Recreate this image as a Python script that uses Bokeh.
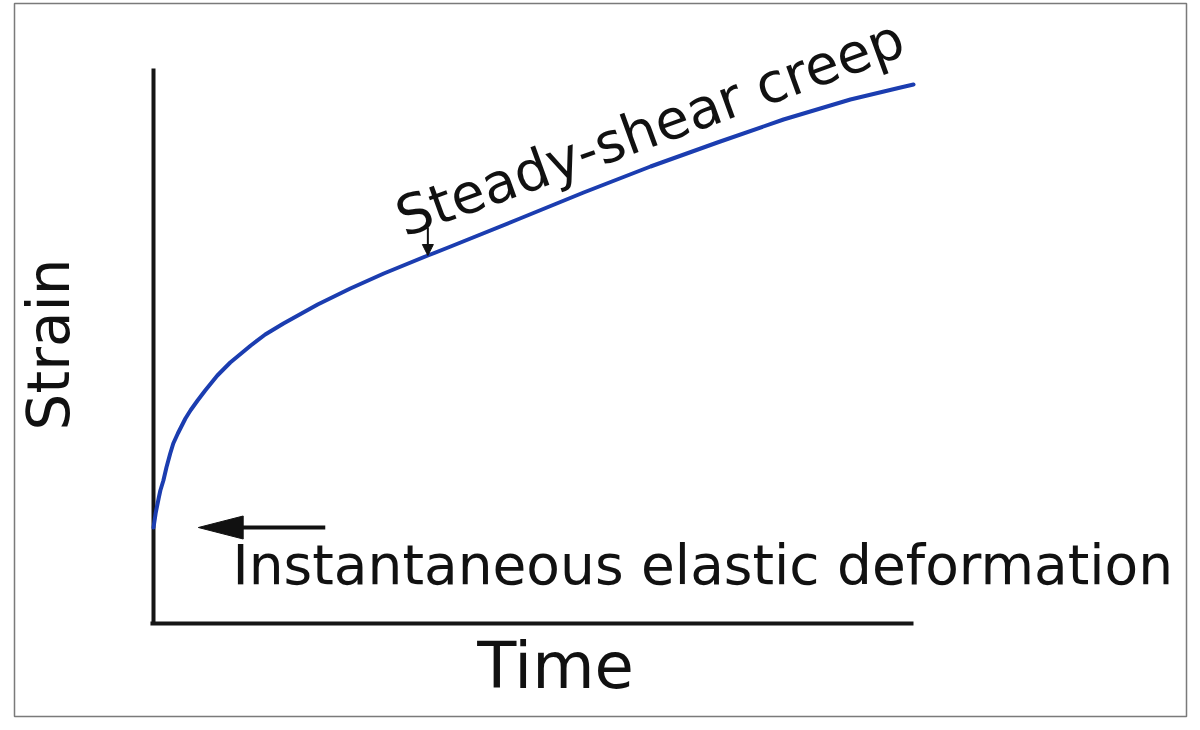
from bokeh.plotting import figure
from bokeh.models import Range1d, Arrow, NormalHead, Label
from bokeh.embed import file_html
from bokeh.resources import INLINE
import math

# ---- data (time and strain, arbitrary units) ----
time = [0, 0.03, 0.07, 0.09, 0.13, 0.17, 0.22, 0.26, 0.32, 0.42, 0.49, 0.58, 0.68,
        0.84, 1.01, 1.28, 1.47, 1.71, 2.16, 2.59, 3.03, 3.61, 3.91, 4.79, 5.66,
        6.54, 7.42, 8.29, 9.17, 9.83, 10.0]
strain = [1.92, 2.22, 2.52, 2.66, 2.86, 3.12, 3.40, 3.60, 3.80, 4.10, 4.27, 4.46, 4.66,
          4.96, 5.22, 5.56, 5.78, 6.00, 6.38, 6.70, 7.00, 7.36, 7.54, 8.08, 8.62,
          9.14, 9.62, 10.08, 10.48, 10.72, 10.78]

time_axis_end = 10.0
strain_axis_end = 11.1

x_label = "Time"
y_label = "Strain"
creep_label = "Steady-shear creep"
elastic_label = "Instantaneous elastic deformation"

# annotation anchors (data units)
elastic_arrow_tail = (2.26, 1.92)
elastic_arrow_tip = (0.59, 1.92)
creep_arrow_tail = (3.61, 7.92)
creep_arrow_tip = (3.61, 7.36)

FONT = "DejaVu Sans"
INK = "#111111"

p = figure(width=1190, height=720, output_backend="svg", toolbar_location=None,
           x_range=Range1d(-1.829, 13.592), y_range=Range1d(-1.86, 12.40),
           x_axis_type=None, y_axis_type=None,
           min_border_left=14, min_border_right=4, min_border_top=3, min_border_bottom=4)
p.grid.visible = False
p.outline_line_color = "#7a7a7a"
p.outline_line_width = 1.5
p.background_fill_color = "white"
p.border_fill_color = "white"

# axes drawn as plain lines
p.line([0, 0], [0, strain_axis_end], line_color="#151515", line_width=4)
p.line([-0.04, time_axis_end], [0, 0], line_color="#151515", line_width=4)

# creep curve
p.line(time, strain, line_color="#1b3db0", line_width=4, line_cap="round", line_join="round")

# big arrow for elastic deformation: shaft + elongated head
head_len = 0.59
head_half = 0.23
p.line([elastic_arrow_tail[0], elastic_arrow_tip[0] + head_len * 0.9],
       [elastic_arrow_tail[1], elastic_arrow_tip[1]], line_color=INK, line_width=4)
p.patch([elastic_arrow_tip[0], elastic_arrow_tip[0] + head_len, elastic_arrow_tip[0] + head_len],
        [elastic_arrow_tip[1], elastic_arrow_tip[1] + head_half, elastic_arrow_tip[1] - head_half],
        fill_color=INK, line_color=INK)

# small arrow from label to curve
p.add_layout(Arrow(x_start=creep_arrow_tail[0], y_start=creep_arrow_tail[1],
                   x_end=creep_arrow_tip[0], y_end=creep_arrow_tip[1],
                   line_color=INK, line_width=2,
                   end=NormalHead(size=11, fill_color=INK, line_color=INK)))

# texts
p.add_layout(Label(x=-1.37, y=5.58, text=y_label, angle=math.pi / 2,
                   text_align="center", text_baseline="middle",
                   text_font=FONT, text_font_size="58px", text_color=INK))
p.add_layout(Label(x=5.29, y=-0.84, text=x_label,
                   text_align="center", text_baseline="middle",
                   text_font=FONT, text_font_size="64px", text_color=INK))
p.add_layout(Label(x=1.04, y=1.17, text=elastic_label,
                   text_align="left", text_baseline="middle",
                   text_font=FONT, text_font_size="55px", text_color=INK))
p.add_layout(Label(x=3.22, y=8.08, text=creep_label, angle=math.radians(20),
                   text_align="left", text_baseline="middle",
                   text_font=FONT, text_font_size="55px", text_color=INK))

open("out.html", "w").write(file_html(p, INLINE))
